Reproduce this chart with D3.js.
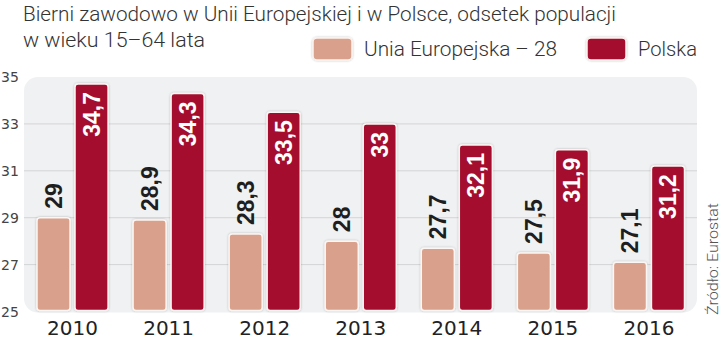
<!DOCTYPE html>
<html><head><meta charset="utf-8">
<script src="https://cdn.jsdelivr.net/npm/d3@7"></script>
<style>
html,body{margin:0;padding:0;background:#fff;}
svg{display:block;}
</style></head>
<body>
<svg id="chart" width="721" height="342"></svg>
<script>
const years = ["2010","2011","2012","2013","2014","2015","2016"];
const seriesNames = ["Unia Europejska – 28","Polska"];
const euValues = [29, 28.9, 28.3, 28, 27.7, 27.5, 27.1];
const plValues = [34.7, 34.3, 33.5, 33, 32.1, 31.9, 31.2];
const yTicks = [25, 27, 29, 31, 33, 35];
const titleLines = ["Bierni zawodowo w Unii Europejskiej i w Polsce, odsetek populacji", "w wieku 15–64 lata"];
const sourceText = "Źródło: Eurostat";

const colors = {"Unia Europejska – 28": "#d9a08b", "Polska": "#a50e2d"};
const lightFont = "Roboto,'Liberation Sans',Arial,sans-serif";

const svg = d3.select("#chart");
const defs = svg.append("defs");
const f = defs.append("filter").attr("id","sh").attr("x","-20%").attr("y","-20%").attr("width","140%").attr("height","140%");
f.append("feDropShadow").attr("dx",0).attr("dy",0).attr("stdDeviation",1.2).attr("flood-color","#000").attr("flood-opacity",0.25);

const data = years.map((y,i)=>({year:y, values:[{s:seriesNames[0], v:euValues[i]},{s:seriesNames[1], v:plValues[i]}]}));

const panel = {left:24, right:697, top:77, bottom:311.5};
const y = d3.scaleLinear().domain([25,35]).range([panel.bottom, panel.top]);
const x0 = d3.scaleBand().domain(years).range([24.5, 697]).paddingInner(0.26).paddingOuter(0.13);
const x1 = d3.scaleBand().domain(seriesNames).range([0, x0.bandwidth()]).paddingInner(0.13);

// panel background
svg.append("rect").attr("x",panel.left).attr("y",panel.top)
  .attr("width",panel.right-panel.left).attr("height",panel.bottom-panel.top+1)
  .attr("rx",14).attr("fill","#f0f1f3");

// gridlines
svg.append("g").selectAll("line").data(yTicks.filter(t=>t>25 && t<35)).join("line")
  .attr("x1",panel.left).attr("x2",panel.right)
  .attr("y1",d=>y(d)).attr("y2",d=>y(d))
  .attr("stroke","#d3d4d6").attr("stroke-width",1);

// y axis labels
const yAxis = d3.axisLeft(y).tickValues(yTicks).tickSize(0).tickPadding(0).tickFormat(d3.format("d"));
const ya = svg.append("g").call(yAxis);
ya.select(".domain").remove();
ya.selectAll("text").attr("x",1).attr("text-anchor","start").attr("dy","0.35em")
  .attr("font-family","'DejaVu Sans',sans-serif").attr("font-size",14).attr("fill","#444");

// x axis labels
const xAxis = d3.axisBottom(x0).tickSize(0).tickPadding(0);
const xa = svg.append("g").attr("transform","translate(0,"+panel.bottom+")").call(xAxis);
xa.select(".domain").remove();
xa.selectAll("text").attr("y",23).attr("dy",0)
  .attr("font-family","'DejaVu Sans',sans-serif").attr("font-size",20).attr("fill","#222");

// bars
const groups = svg.append("g").selectAll("g").data(data).join("g")
  .attr("transform",d=>"translate("+x0(d.year)+",0)");

groups.selectAll("rect").data(d=>d.values).join("rect")
  .attr("x",d=>x1(d.s)).attr("width",x1.bandwidth())
  .attr("y",d=>y(d.v)).attr("height",d=>y(25)-y(d.v)-1)
  .attr("rx",3)
  .attr("fill",d=>colors[d.s])
  .attr("stroke","#fbf6f3").attr("stroke-width",1.5)
  .attr("filter","url(#sh)");

const fmt = v => String(v).replace(".",",");

// value labels
groups.selectAll("text.val").data(d=>d.values).join("text")
  .attr("class","val")
  .attr("transform",d=>{
    const cx = x1(d.s)+x1.bandwidth()/2 + 8.5;
    const yy = d.s===seriesNames[1] ? y(d.v)+8 : y(d.v)-9;
    return "translate("+cx+","+yy+") rotate(-90)";
  })
  .attr("text-anchor",d=>d.s===seriesNames[1] ? "end" : "start")
  .attr("font-family","'Liberation Sans',Arial,sans-serif").attr("font-weight","bold").attr("font-size",23)
  .attr("fill",d=>d.s===seriesNames[1] ? "#fff" : "#1e1e1e")
  .text(d=>fmt(d.v));

// title
const titleWidths = [593, 182];
titleLines.forEach((t,i)=>{
  svg.append("text").attr("x",23).attr("y",i===0?21:47)
    .attr("font-family",lightFont).attr("font-weight",300).attr("font-size",21).attr("fill","#333")
    .attr("textLength",titleWidths[i]).attr("lengthAdjust","spacingAndGlyphs")
    .text(t);
});

// legend
const legendPos = [{sx:313, tx:364, tw:193},{sx:587, tx:638, tw:59}];
seriesNames.forEach((s,i)=>{
  svg.append("rect").attr("x",legendPos[i].sx).attr("y",38).attr("width",39).attr("height",22)
    .attr("rx",4).attr("fill",colors[s]).attr("stroke","#fbf3ef").attr("stroke-width",1.5)
    .attr("filter","url(#sh)");
  svg.append("text").attr("x",legendPos[i].tx).attr("y",56)
    .attr("font-family",lightFont).attr("font-weight",300).attr("font-size",21).attr("fill","#333")
    .attr("textLength",legendPos[i].tw).attr("lengthAdjust","spacingAndGlyphs")
    .text(s);
});

// source
svg.append("text").attr("transform","translate(718,315) rotate(-90)")
  .attr("font-family",lightFont).attr("font-weight",300).attr("font-size",15).attr("fill","#555")
  .attr("textLength",112).attr("lengthAdjust","spacingAndGlyphs")
  .text(sourceText);
</script>
</body></html>
